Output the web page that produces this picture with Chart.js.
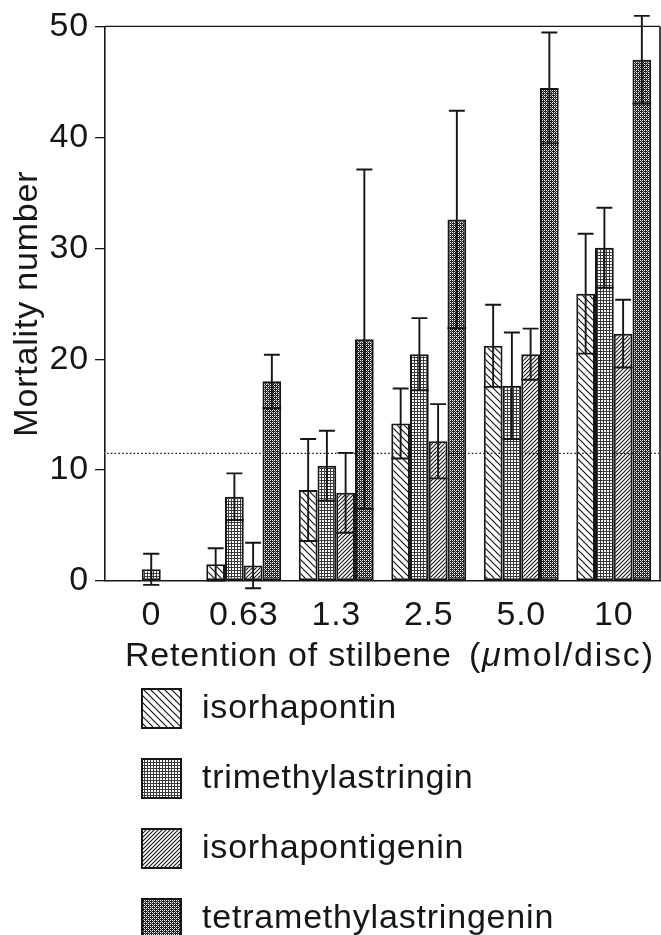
<!DOCTYPE html>
<html><head><meta charset="utf-8">
<script src="https://cdn.jsdelivr.net/npm/chart.js@4.4.1/dist/chart.umd.min.js"></script>
<style>html,body{margin:0;padding:0;background:#fff;}#wrap{width:661px;height:935px;}</style>
</head><body><div id="wrap"><canvas id="c" width="661" height="935"></canvas></div>
<script>
// ---- data ----
const categories = ['0', '0.63', '1.3', '2.5', '5.0', '10'];
const seriesNames = ['isorhapontin', 'trimethylastringin', 'isorhapontigenin', 'tetramethylastringenin'];
const isorhapontin = [null, 1.5, 8.2, 14.2, 21.2, 25.9];
const trimethylastringin = [1.05, 7.6, 10.4, 20.45, 17.6, 30.05];
const isorhapontigenin = [null, 1.4, 7.95, 12.6, 20.45, 22.3];
const tetramethylastringenin = [null, 18.0, 21.8, 32.6, 44.45, 47.0];
const isorhapontinSD = [null, 1.45, 4.6, 3.15, 3.7, 5.4];
const trimethylastringinSD = [1.4, 2.1, 3.15, 3.25, 4.8, 3.6];
const isorhapontigeninSD = [null, 2.05, 3.6, 3.35, 2.3, 3.05];
const tetramethylastringeninSD = [null, 2.4, 15.3, 9.8, 5.0, 3.95];
const yTicks = [0, 10, 20, 30, 40, 50];
const thresholdValue = 11.5;
const yTitle = 'Mortality number';
const xTitle = 'Retention of stilbene';
const xUnitParts = ['(', 'μ', 'mol/disc)'];

// ---- styling ----
const INK = '#161616';
const FONT = '"Liberation Sans", Arial, Helvetica, sans-serif';
const FS = 34;
const SPACING = '0.8px';

function makePattern(kind) {
  const c = document.createElement('canvas');
  const g = c.getContext('2d');
  if (kind === 'back') {
    c.width = 7; c.height = 7;
    g.fillStyle = '#fff'; g.fillRect(0, 0, 7, 7);
    g.strokeStyle = INK; g.lineWidth = 1.2;
    for (const k of [-7, 0, 7]) { g.beginPath(); g.moveTo(k - 1, -1); g.lineTo(k + 8, 8); g.stroke(); }
  } else if (kind === 'grid') {
    c.width = 3; c.height = 3;
    g.fillStyle = '#fff'; g.fillRect(0, 0, 3, 3);
    g.fillStyle = '#3a3a3a'; g.fillRect(0, 0, 3, 1); g.fillRect(0, 0, 1, 3);
  } else if (kind === 'fwd') {
    c.width = 4; c.height = 4;
    g.fillStyle = '#fff'; g.fillRect(0, 0, 4, 4);
    g.strokeStyle = INK; g.lineWidth = 1.1;
    for (const k of [-4, 0, 4]) { g.beginPath(); g.moveTo(k - 1, 5); g.lineTo(k + 5, -1); g.stroke(); }
  } else {
    c.width = 4; c.height = 4;
    g.fillStyle = '#1e1e1e'; g.fillRect(0, 0, 4, 4);
    g.fillStyle = '#fff';
    g.fillRect(0, 0, 1, 1); g.fillRect(2, 2, 1, 1); g.fillRect(2, 0, 1, 1); g.fillRect(0, 2, 1, 1);
    g.fillStyle = '#9a9a9a';
    g.fillRect(1, 1, 1, 1); g.fillRect(3, 3, 1, 1);
  }
  return g.createPattern(c, 'repeat');
}

const patterns = [makePattern('back'), makePattern('grid'), makePattern('fwd'), makePattern('dark')];
const values = [isorhapontin, trimethylastringin, isorhapontigenin, tetramethylastringenin];
const sds = [isorhapontinSD, trimethylastringinSD, isorhapontigeninSD, tetramethylastringeninSD];

const datasets = seriesNames.map((name, i) => ({
  label: name,
  data: values[i],
  sd: sds[i],
  backgroundColor: patterns[i],
  borderColor: INK,
  borderWidth: 2,
  borderSkipped: false,
  skipNull: true,
  maxBarThickness: 19,
  categoryPercentage: 0.81,
  barPercentage: 1.0
}));

const spacingPlugin = {
  id: 'spacing',
  beforeLayout(chart) { chart.ctx.letterSpacing = SPACING; },
  beforeDraw(chart) { chart.ctx.letterSpacing = SPACING; }
};

const extrasPlugin = {
  id: 'extras',
  afterDatasetsDraw(chart) {
    const ctx = chart.ctx;
    const ys = chart.scales.y;
    const ca = chart.chartArea;
    ctx.save();
    ctx.strokeStyle = INK;
    ctx.lineWidth = 1.9;
    chart.data.datasets.forEach((ds, di) => {
      const meta = chart.getDatasetMeta(di);
      ds.data.forEach((v, i) => {
        if (v == null) return;
        const sd = ds.sd[i];
        const bar = meta.data[i];
        const x = bar.x, w = bar.width;
        const yt = ys.getPixelForValue(v + sd);
        const yl = ys.getPixelForValue(v - sd);
        const cap = w * 0.85;
        ctx.beginPath();
        ctx.moveTo(x, yt); ctx.lineTo(x, yl);
        ctx.moveTo(x - cap / 2, yt); ctx.lineTo(x + cap / 2, yt);
        if (v - sd > 0) { ctx.moveTo(x - w / 2, yl); ctx.lineTo(x + w / 2, yl); }
        else { ctx.moveTo(x - cap / 2, yl); ctx.lineTo(x + cap / 2, yl); }
        ctx.stroke();
      });
    });
    const yd = ys.getPixelForValue(thresholdValue);
    ctx.setLineDash([1.6, 2.2]);
    ctx.lineWidth = 1.3;
    ctx.beginPath(); ctx.moveTo(ca.left + 2, yd); ctx.lineTo(ca.right - 1, yd); ctx.stroke();
    ctx.setLineDash([]);
    ctx.lineWidth = 1.3;
    ctx.beginPath(); ctx.moveTo(ca.left, ca.top); ctx.lineTo(ca.right, ca.top); ctx.stroke();
    ctx.lineWidth = 1.6;
    ctx.beginPath(); ctx.moveTo(ca.right, ca.top); ctx.lineTo(ca.right, ca.bottom); ctx.stroke();
    ctx.restore();
  },
  afterDraw(chart) {
    const ctx = chart.ctx;
    ctx.save();
    ctx.letterSpacing = SPACING;
    ctx.fillStyle = INK;
    ctx.textBaseline = 'alphabetic';
    ctx.textAlign = 'left';
    const baseY = 666;
    ctx.font = FS + 'px ' + FONT;
    ctx.fillText(xTitle, 125, baseY);
    ctx.letterSpacing = '1.8px';
    let x = 469;
    ctx.fillText(xUnitParts[0], x, baseY); x += ctx.measureText(xUnitParts[0]).width;
    ctx.font = 'italic ' + FS + 'px ' + FONT;
    ctx.fillText(xUnitParts[1], x, baseY); x += ctx.measureText(xUnitParts[1]).width;
    ctx.font = FS + 'px ' + FONT;
    ctx.fillText(xUnitParts[2], x, baseY);
    ctx.letterSpacing = SPACING;
    chart.data.datasets.forEach((ds, i) => {
      const bx = 142, by = 689 + 70 * i, s = 39;
      ctx.fillStyle = ds.backgroundColor;
      ctx.fillRect(bx, by, s, s);
      ctx.strokeStyle = INK; ctx.lineWidth = 2;
      ctx.strokeRect(bx, by, s, s);
      ctx.fillStyle = INK;
      ctx.textBaseline = 'middle';
      ctx.font = FS + 'px ' + FONT;
      ctx.fillText(ds.label, 202, by + s / 2);
    });
    ctx.restore();
  }
};

new Chart(document.getElementById('c'), {
  type: 'bar',
  data: { labels: categories, datasets },
  options: {
    responsive: false,
    animation: false,
    devicePixelRatio: 1,
    layout: { padding: { top: 26, right: 1, left: 0, bottom: 0 } },
    plugins: { legend: { display: false }, tooltip: { enabled: false } },
    scales: {
      x: {
        grid: { display: false, drawTicks: false },
        border: { display: true, color: INK, width: 1.6 },
        ticks: { color: INK, font: { family: FONT, size: FS }, padding: 14, maxRotation: 0, autoSkip: false },
        afterFit(scale) { scale.height = 935 - 581; }
      },
      y: {
        min: 0, max: 50,
        afterBuildTicks(scale) { scale.ticks = yTicks.map(v => ({ value: v })); },
        grid: { drawOnChartArea: false, drawTicks: true, tickLength: 10, color: INK, lineWidth: 1.3 },
        border: { display: true, color: INK, width: 1.6 },
        ticks: { color: INK, font: { family: FONT, size: FS }, padding: 6 },
        title: { display: true, text: yTitle, color: INK, font: { family: FONT, size: FS }, padding: { top: 7, bottom: 0 } },
        afterFit(scale) { scale.width = 105; }
      }
    }
  },
  plugins: [spacingPlugin, extrasPlugin]
});
</script>
</body></html>
